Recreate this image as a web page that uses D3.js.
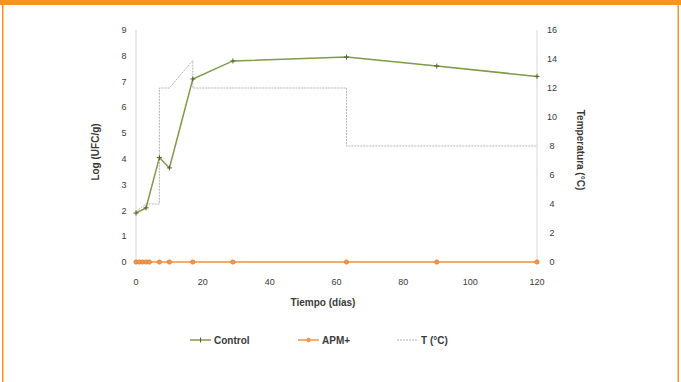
<!DOCTYPE html>
<html>
<head>
  <script src="https://cdn.jsdelivr.net/npm/d3@7"></script>
  <style>
    body { margin: 0; background: #fff; font-family: "Liberation Sans", Arial, sans-serif; }
    svg text { fill: #3a3a3a; font-size: 9px; }
    .title, .legend { font-size: 10px; font-weight: bold; }
  </style>
</head>
<body>
  <svg id="chart" width="681" height="382"></svg>
  <script>
    // data
    const controlDays = [0, 3, 7, 10, 17, 29, 63, 90, 120];
    const controlLog = [1.9, 2.1, 4.05, 3.65, 7.1, 7.8, 7.95, 7.6, 7.2];

    const apmDays = [0, 1, 2, 3, 4, 7, 10, 17, 29, 63, 90, 120];
    const apmLog = [0, 0, 0, 0, 0, 0, 0, 0, 0, 0, 0, 0];

    const tempDays = [0, 3, 7, 7, 10, 17, 17, 63, 63, 120];
    const tempC = [3.5, 4, 4, 12, 12, 13.9, 12, 12, 8, 8];

    const xTicks = [0, 20, 40, 60, 80, 100, 120];
    const yLeftTicks = d3.range(0, 10);
    const yRightTicks = d3.range(0, 17, 2);
    const legendNames = ["Control", "APM+", "T (°C)"];

    const svg = d3.select("#chart");
    const orange = "#f7941d";

    // frame
    svg.append("rect").attr("x", 0).attr("y", 0).attr("width", 681).attr("height", 5).attr("fill", orange);
    svg.append("rect").attr("x", 2).attr("y", 0).attr("width", 1.5).attr("height", 382).attr("fill", orange);
    svg.append("rect").attr("x", 677.5).attr("y", 0).attr("width", 1.5).attr("height", 382).attr("fill", orange);

    const x = d3.scaleLinear().domain([0, 120]).range([136, 537]);
    const yL = d3.scaleLinear().domain([0, 9]).range([262, 30]);
    const yR = d3.scaleLinear().domain([0, 16]).range([262, 30]);

    // axes
    const axisColor = "#d9d9d9";
    svg.append("line").attr("x1", x(0)).attr("x2", x(0)).attr("y1", yL(9)).attr("y2", yL(0)).attr("stroke", axisColor);
    svg.append("line").attr("x1", x(120)).attr("x2", x(120)).attr("y1", yR(16)).attr("y2", yR(0)).attr("stroke", axisColor);
    svg.append("line").attr("x1", x(0)).attr("x2", x(120)).attr("y1", yL(0)).attr("y2", yL(0)).attr("stroke", axisColor);

    svg.append("g").selectAll("text").data(yLeftTicks).join("text")
      .attr("x", 124).attr("y", d => yL(d)).attr("dy", "0.35em")
      .attr("text-anchor", "middle").text(d => d);

    svg.append("g").selectAll("text").data(yRightTicks).join("text")
      .attr("x", 552).attr("y", d => yR(d)).attr("dy", "0.35em")
      .attr("text-anchor", "middle").text(d => d);

    svg.append("g").selectAll("text").data(xTicks).join("text")
      .attr("x", d => x(d)).attr("y", 282).attr("dy", "0.35em")
      .attr("text-anchor", "middle").text(d => d);

    svg.append("text").attr("class", "title").attr("x", 323).attr("y", 302).attr("dy", "0.35em")
      .attr("text-anchor", "middle").text("Tiempo (días)");

    svg.append("text").attr("class", "title").attr("transform", "translate(95,152) rotate(-90)")
      .attr("dy", "0.35em").attr("text-anchor", "middle").text("Log (UFC/g)");

    svg.append("text").attr("class", "title").attr("transform", "translate(580,150) rotate(90)")
      .attr("dy", "0.35em").attr("text-anchor", "middle").text("Temperatura (°C)");

    // series
    const tempColor = "#b5b5b5";
    const tempLine = d3.line().x((d, i) => x(tempDays[i])).y(d => yR(d));
    svg.append("path").datum(tempC).attr("d", tempLine)
      .attr("fill", "none").attr("stroke", tempColor).attr("stroke-width", 1).attr("stroke-dasharray", "2,1");

    const apmColor = "#f79646";
    const apmLine = d3.line().x((d, i) => x(apmDays[i])).y(d => yL(d));
    svg.append("path").datum(apmLog).attr("d", apmLine)
      .attr("fill", "none").attr("stroke", apmColor).attr("stroke-width", 1.5);
    svg.append("g").selectAll("circle").data(apmLog).join("circle")
      .attr("cx", (d, i) => x(apmDays[i])).attr("cy", d => yL(d)).attr("r", 2.2)
      .attr("fill", apmColor).attr("stroke", "#d97a2a").attr("stroke-width", 0.6);

    const ctrlColor = "#7f9a48";
    const ctrlLine = d3.line().x((d, i) => x(controlDays[i])).y(d => yL(d));
    svg.append("path").datum(controlLog).attr("d", ctrlLine)
      .attr("fill", "none").attr("stroke", ctrlColor).attr("stroke-width", 1.5);
    const marks = svg.append("g").attr("stroke", "#4f6228").attr("stroke-width", 1);
    controlLog.forEach((d, i) => {
      const cx = x(controlDays[i]), cy = yL(d);
      marks.append("line").attr("x1", cx - 2.5).attr("x2", cx + 2.5).attr("y1", cy).attr("y2", cy);
      marks.append("line").attr("x1", cx).attr("x2", cx).attr("y1", cy - 2.5).attr("y2", cy + 2.5);
    });

    // legend
    const legendX = [190, 298, 397];
    const lg = svg.append("g");
    legendNames.forEach((name, i) => {
      const lx = legendX[i], ly = 340;
      const line = lg.append("line").attr("x1", lx).attr("x2", lx + 21).attr("y1", ly).attr("y2", ly);
      if (i === 0) {
        line.attr("stroke", ctrlColor).attr("stroke-width", 1.5);
        lg.append("line").attr("x1", lx + 10.5).attr("x2", lx + 10.5).attr("y1", ly - 2.5).attr("y2", ly + 2.5).attr("stroke", "#4f6228");
      } else if (i === 1) {
        line.attr("stroke", apmColor).attr("stroke-width", 1.5);
        lg.append("circle").attr("cx", lx + 10.5).attr("cy", ly).attr("r", 2.2).attr("fill", apmColor);
      } else {
        line.attr("stroke", tempColor).attr("stroke-dasharray", "2,1");
      }
      lg.append("text").attr("class", "legend").attr("x", lx + 24).attr("y", ly).attr("dy", "0.35em").text(name);
    });
  </script>
</body>
</html>
